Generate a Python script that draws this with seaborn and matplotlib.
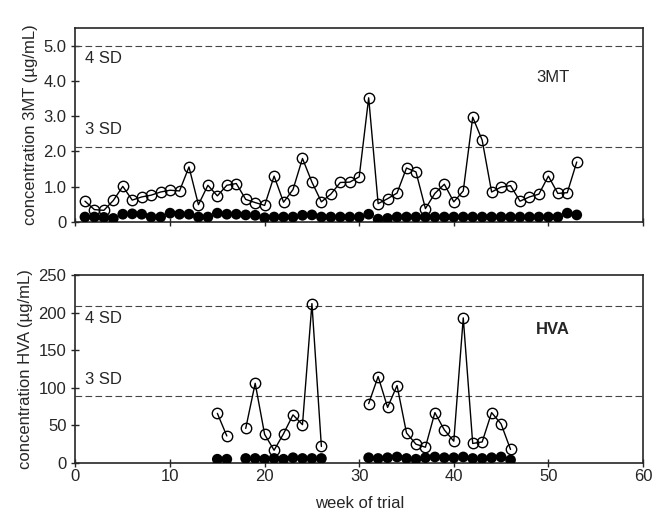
import numpy as np
import matplotlib
matplotlib.use("Agg")
import matplotlib.pyplot as plt
import pandas as pd
import seaborn as sns

# 3MT, weeks 1..53
weeks_3mt = list(range(1, 54))
mt_patient = [0.59, 0.35, 0.33, 0.61, 1.01, 0.62, 0.71, 0.76, 0.85, 0.90,
              0.88, 1.56, 0.49, 1.04, 0.74, 1.04, 1.09, 0.64, 0.55, 0.47,
              1.30, 0.56, 0.92, 1.80, 1.13, 0.57, 0.79, 1.12, 1.13, 1.28,
              3.52, 0.52, 0.66, 0.82, 1.53, 1.42, 0.38, 0.81, 1.07, 0.57,
              0.88, 2.97, 2.32, 0.85, 0.99, 1.03, 0.59, 0.71, 0.79, 1.30,
              0.81, 0.83, 1.70]
mt_control = [0.14, 0.14, 0.13, 0.10, 0.22, 0.23, 0.22, 0.14, 0.14, 0.25,
              0.22, 0.22, 0.14, 0.14, 0.25, 0.22, 0.22, 0.20, 0.19, 0.12,
              0.14, 0.14, 0.14, 0.19, 0.20, 0.14, 0.14, 0.14, 0.14, 0.14,
              0.22, 0.08, 0.10, 0.14, 0.14, 0.14, 0.14, 0.14, 0.14, 0.14,
              0.14, 0.14, 0.14, 0.14, 0.14, 0.14, 0.14, 0.14, 0.14, 0.14,
              0.14, 0.25, 0.20]
mt_sd3, mt_sd4 = 2.12, 5.0

# HVA, weeks with samples
weeks_hva = [15, 16, 18, 19, 20, 21, 22, 23, 24, 25, 26,
             31, 32, 33, 34, 35, 36, 37, 38, 39, 40, 41, 42, 43, 44, 45, 46]
hva_patient = [66, 36, 46, 106, 38, 17, 39, 64, 51, 212, 22,
               79, 115, 74, 103, 40, 25, 21, 67, 44, 29, 193, 26, 28, 67, 52, 18]
hva_control = [5, 5, 6, 6, 5, 6, 5, 7, 6, 6, 6,
               7, 6, 7, 8, 6, 5, 7, 8, 7, 7, 8, 6, 6, 7, 8, 4]
hva_sd3, hva_sd4 = 89, 209


def segments(weeks):
    seg, out = 0, []
    for i, w in enumerate(weeks):
        if i > 0 and w - weeks[i - 1] > 1:
            seg += 1
        out.append(seg)
    return out


sns.set_style("ticks")
plt.rcParams['font.family'] = ['Liberation Sans', 'DejaVu Sans']
plt.rcParams['font.size'] = 12

fig = plt.figure(figsize=(6.53, 5.19), dpi=100)
ax1 = fig.add_axes([0.1156, 0.5723, 0.869, 0.3738])
ax2 = fig.add_axes([0.1156, 0.1079, 0.869, 0.3622])

panels = [
    (ax1, weeks_3mt, mt_patient, mt_control, mt_sd3, mt_sd4, 5.5,
     [0, 1, 2, 3, 4, 5], ['0', '1.0', '2.0', '3.0', '4.0', '5.0'],
     'concentration 3MT (\u00b5g/mL)', '3MT', 4.1, 'normal'),
    (ax2, weeks_hva, hva_patient, hva_control, hva_sd3, hva_sd4, 250,
     [0, 50, 100, 150, 200, 250], ['0', '50', '100', '150', '200', '250'],
     'concentration HVA (\u00b5g/mL)', 'HVA', 178, 'bold'),
]

for ax, wk, pat, ctl, sd3, sd4, ymax, yt, ytl, ylab, name, name_y, fw in panels:
    df = pd.DataFrame({'week': wk, 'patient': pat, 'control': ctl,
                       'seg': segments(wk)})
    for y in (sd3, sd4):
        ax.axhline(y, color='#444444', lw=0.8, dashes=(6, 3))
    sns.lineplot(data=df, x='week', y='patient', units='seg', estimator=None,
                 color='black', lw=1.0, marker='o', markersize=7.5,
                 markerfacecolor='none', markeredgecolor='black',
                 markeredgewidth=1.0, ax=ax)
    sns.scatterplot(data=df, x='week', y='control', color='black', s=60,
                    edgecolor='none', ax=ax, zorder=5)
    ax.set_xlim(0, 60)
    ax.set_ylim(0, ymax)
    ax.set_yticks(yt)
    ax.set_yticklabels(ytl)
    ax.set_xticks([0, 10, 20, 30, 40, 50, 60])
    ax.set_ylabel(ylab, fontsize=12)
    ax.set_xlabel('')
    ax.text(1.0, sd4 - 0.03 * ymax, '4 SD', va='top', ha='left', fontsize=12)
    ax.text(1.0, sd3 + 0.05 * ymax, '3 SD', va='bottom', ha='left', fontsize=12)
    ax.text(50.5, name_y, name, ha='center', va='center', fontsize=12,
            fontweight=fw)
    ax.tick_params(direction='inout', length=6, width=1, labelsize=12)
    ax.tick_params(axis='x', pad=1)
    for s in ax.spines.values():
        s.set_visible(True)
        s.set_linewidth(1.2)

ax1.set_xticklabels([])
ax2.set_xlabel('week of trial', fontsize=12, labelpad=9)

fig.savefig('out.png', dpi=100)
